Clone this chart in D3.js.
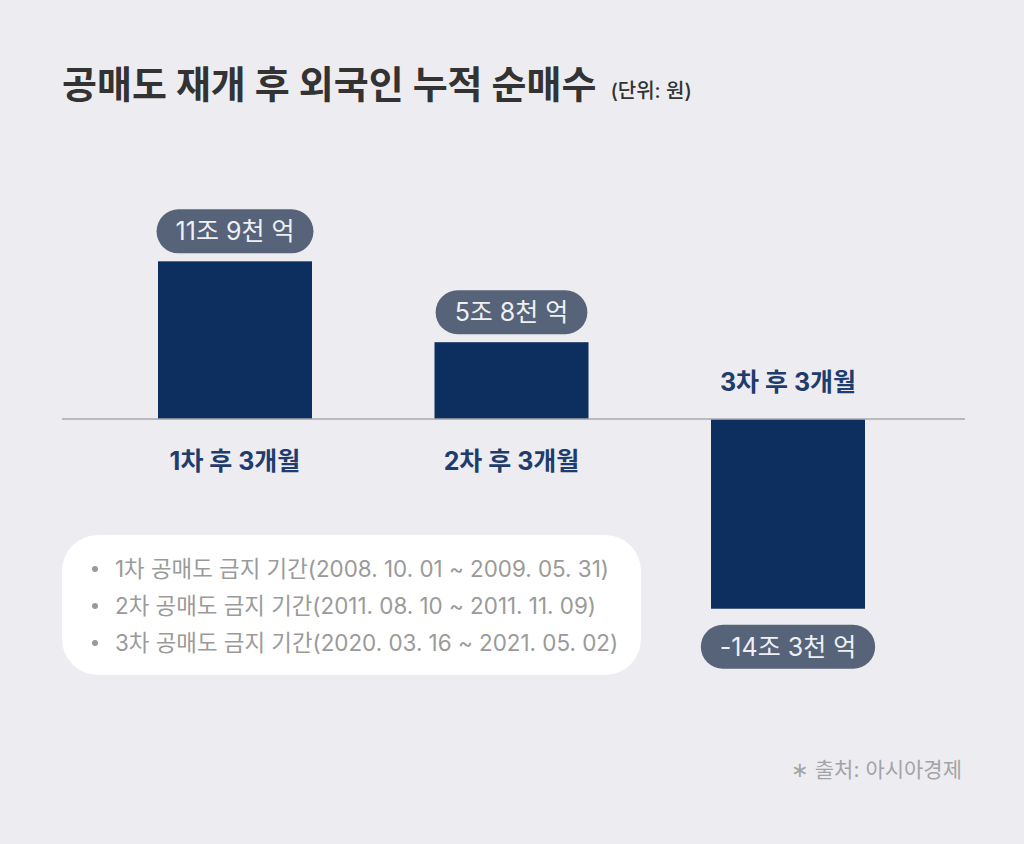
<!DOCTYPE html>
<html lang="ko">
<head>
<meta charset="utf-8">
<script src="https://cdn.jsdelivr.net/npm/d3@7"></script>
<style>
  html, body { margin: 0; padding: 0; background: #ededf1; }
  svg { display: block; font-family: 'Inter', 'Noto Sans CJK KR', 'Noto Sans', sans-serif; }
</style>
</head>
<body>
<svg id="chart" width="1024" height="844"></svg>
<script>
'use strict';

// Data (unit: 조 원)
var categories = ['1차 후 3개월', '2차 후 3개월', '3차 후 3개월'];
var values = [11.9, 5.8, -14.3];
var valueLabels = ['11조 9천 억', '5조 8천 억', '-14조 3천 억'];
var periods = [
  '1차 공매도 금지 기간(2008. 10. 01 ~ 2009. 05. 31)',
  '2차 공매도 금지 기간(2011. 08. 10 ~ 2011. 11. 09)',
  '3차 공매도 금지 기간(2020. 03. 16 ~ 2021. 05. 02)'
];

var svg = d3.select('#chart');

svg.append('rect')
  .attr('width', 1024).attr('height', 844)
  .attr('fill', '#ededf1');

// Title
var title = svg.append('text')
  .attr('x', 62).attr('y', 98)
  .attr('fill', '#333333');
title.append('tspan')
  .attr('font-size', 38).attr('font-weight', 700)
  .text('공매도 재개 후 외국인 누적 순매수');
title.append('tspan')
  .attr('dx', 14)
  .attr('font-size', 20).attr('font-weight', 500)
  .text('(단위: 원)');

// Scales
var x = d3.scaleBand()
  .domain(categories)
  .range([158, 865])
  .paddingInner(0.443)
  .paddingOuter(0);

var y = d3.scaleLinear()
  .domain([-15, 12])
  .range([618, 260]);

var rows = categories.map(function(c, i) {
  return { cat: c, value: values[i], label: valueLabels[i] };
});

// Bars
svg.append('g')
  .selectAll('rect')
  .data(rows)
  .join('rect')
  .attr('x', function(d) { return x(d.cat); })
  .attr('width', x.bandwidth())
  .attr('y', function(d) { return y(Math.max(0, d.value)); })
  .attr('height', function(d) { return Math.abs(y(d.value) - y(0)); })
  .attr('fill', '#0d2f5f');

// Baseline
svg.append('line')
  .attr('x1', 62).attr('x2', 965)
  .attr('y1', y(0)).attr('y2', y(0))
  .attr('stroke', '#a9a9ad').attr('stroke-width', 1.5);

// Category labels
svg.append('g')
  .selectAll('text')
  .data(rows)
  .join('text')
  .attr('x', function(d) { return x(d.cat) + x.bandwidth() / 2; })
  .attr('y', function(d) { return d.value >= 0 ? y(0) + 51 : y(0) - 28; })
  .attr('text-anchor', 'middle')
  .attr('font-size', 25).attr('font-weight', 700)
  .attr('fill', '#1f3c6e')
  .text(function(d) { return d.cat; });

// Value pills
var pills = svg.append('g')
  .selectAll('g')
  .data(rows)
  .join('g')
  .attr('transform', function(d) {
    var cx = x(d.cat) + x.bandwidth() / 2;
    var cy = d.value >= 0 ? y(d.value) - 30 : y(d.value) + 38;
    return 'translate(' + cx + ',' + cy + ')';
  });

pills.append('text')
  .attr('text-anchor', 'middle')
  .attr('dy', '0.36em')
  .attr('font-size', 25).attr('font-weight', 400)
  .attr('fill', '#eef0f4')
  .text(function(d) { return d.label; });

pills.each(function() {
  var g = d3.select(this);
  var bb = g.select('text').node().getBBox();
  var w = bb.width + 38;
  g.insert('rect', 'text')
    .attr('x', -w / 2).attr('y', -22)
    .attr('width', w).attr('height', 44)
    .attr('rx', 22)
    .attr('fill', '#566379');
});

// Periods box
var box = svg.append('g');
box.append('rect')
  .attr('x', 62).attr('y', 535)
  .attr('width', 579).attr('height', 140)
  .attr('rx', 36)
  .attr('fill', '#ffffff');

var items = box.selectAll('g.item')
  .data(periods)
  .join('g')
  .attr('class', 'item')
  .attr('transform', function(d, i) { return 'translate(0,' + (569 + i * 37) + ')'; });

items.append('circle')
  .attr('cx', 95).attr('cy', 0).attr('r', 3)
  .attr('fill', '#9a9a9a');

items.append('text')
  .attr('x', 115).attr('dy', '0.35em')
  .attr('font-size', 22.4)
  .attr('fill', '#9a9a9a')
  .text(function(d) { return d; });

// Source
svg.append('text')
  .attr('x', 962).attr('y', 777)
  .attr('text-anchor', 'end')
  .attr('font-size', 21)
  .attr('fill', '#a3a3a6')
  .text('∗ 출처: 아시아경제');
</script>
</body>
</html>
